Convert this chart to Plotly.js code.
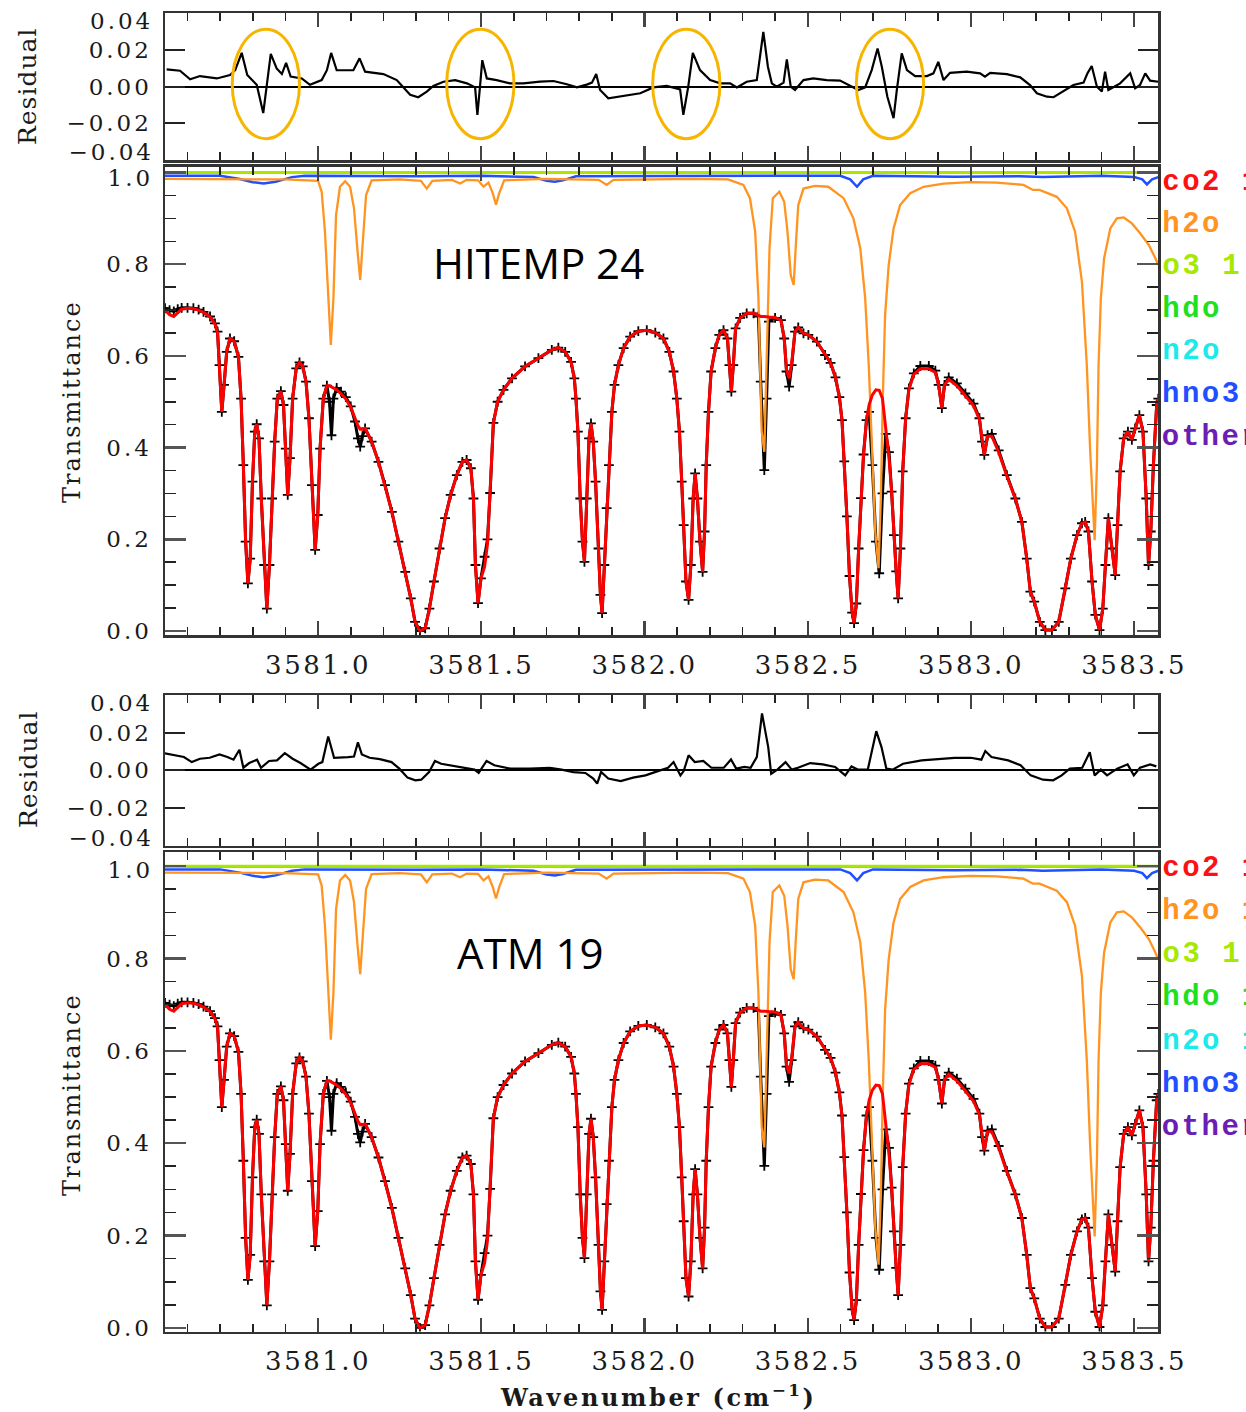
<!DOCTYPE html>
<html><head><meta charset="utf-8">
<script src="https://cdn.plot.ly/plotly-3.0.1.min.js"></script>
<style>
html,body{margin:0;padding:0;background:#fff;}
#plot{width:1246px;height:1412px;}
g[class^="x"][class$="tick"] > text{letter-spacing:2.5px;}
g[class^="y"][class$="tick"] > text{letter-spacing:3px;}
</style></head><body><div id="plot"></div>
<script>
// ---------------- data ----------------
// observed spectrum (same in both panels) and calculated fit
const wn = [
3580.531,3580.545,3580.558,3580.570,3580.582,3580.600,3580.618,3580.634,3580.649,3580.669,
3580.684,3580.692,3580.698,3580.705,3580.712,3580.720,3580.730,3580.743,3580.756,3580.764,
3580.771,3580.778,3580.785,3580.792,3580.799,3580.806,3580.812,3580.819,3580.826,3580.835,
3580.843,3580.851,3580.859,3580.867,3580.875,3580.886,3580.894,3580.901,3580.907,3580.914,
3580.922,3580.933,3580.943,3580.953,3580.963,3580.972,3580.981,3580.991,3580.999,3581.006,
3581.016,3581.027,3581.035,3581.041,3581.047,3581.057,3581.070,3581.085,3581.100,3581.113,
3581.122,3581.129,3581.136,3581.144,3581.164,3581.185,3581.205,3581.226,3581.246,3581.267,
3581.284,3581.297,3581.312,3581.328,3581.341,3581.355,3581.372,3581.389,3581.406,3581.425,
3581.442,3581.455,3581.468,3581.476,3581.482,3581.490,3581.499,3581.510,3581.519,3581.527,
3581.537,3581.550,3581.568,3581.594,3581.634,3581.675,3581.716,3581.736,3581.757,3581.775,
3581.785,3581.790,3581.796,3581.803,3581.810,3581.816,3581.823,3581.830,3581.836,3581.843,
3581.850,3581.859,3581.865,3581.870,3581.877,3581.884,3581.891,3581.900,3581.908,3581.920,
3581.936,3581.956,3581.981,3582.007,3582.033,3582.058,3582.076,3582.089,3582.099,3582.107,
3582.114,3582.120,3582.127,3582.135,3582.142,3582.149,3582.155,3582.162,3582.170,3582.178,
3582.184,3582.189,3582.196,3582.204,3582.217,3582.229,3582.242,3582.254,3582.260,3582.266,
3582.272,3582.279,3582.293,3582.313,3582.334,3582.349,3582.356,3582.367,3582.374,3582.381,
3582.400,3582.418,3582.428,3582.435,3582.443,3582.451,3582.461,3582.471,3582.487,3582.502,
3582.528,3582.553,3582.570,3582.585,3582.597,3582.605,3582.612,3582.620,3582.628,3582.636,
3582.642,3582.649,3582.656,3582.663,3582.671,3582.680,3582.688,3582.698,3582.709,3582.719,
3582.729,3582.739,3582.749,3582.757,3582.764,3582.771,3582.777,3582.784,3582.791,3582.800,
3582.810,3582.825,3582.845,3582.871,3582.891,3582.901,3582.911,3582.919,3582.932,3582.957,
3582.983,3583.008,3583.026,3583.034,3583.041,3583.051,3583.064,3583.085,3583.110,3583.136,
3583.156,3583.171,3583.182,3583.194,3583.211,3583.228,3583.248,3583.269,3583.289,3583.306,
3583.325,3583.340,3583.350,3583.360,3583.371,3583.381,3583.394,3583.404,3583.412,3583.421,
3583.432,3583.442,3583.449,3583.457,3583.468,3583.481,3583.493,3583.503,3583.516,3583.527,
3583.537,3583.544,3583.551,3583.559,3583.569,3583.574];
const obsT = [
0.704,0.700,0.697,0.702,0.705,0.705,0.704,0.701,0.696,0.686,
0.671,0.653,0.580,0.478,0.537,0.609,0.638,0.632,0.598,0.507,
0.362,0.195,0.104,0.158,0.326,0.435,0.451,0.420,0.289,0.144,
0.049,0.144,0.289,0.413,0.507,0.523,0.493,0.398,0.297,0.377,
0.507,0.573,0.586,0.577,0.544,0.464,0.318,0.177,0.253,0.398,
0.507,0.535,0.500,0.427,0.507,0.530,0.522,0.510,0.490,0.457,
0.420,0.402,0.425,0.442,0.413,0.369,0.318,0.260,0.195,0.129,
0.071,0.020,0.000,0.006,0.049,0.108,0.180,0.246,0.297,0.340,
0.369,0.373,0.355,0.289,0.144,0.061,0.115,0.162,0.200,0.301,
0.454,0.500,0.526,0.551,0.577,0.595,0.613,0.618,0.609,0.587,
0.551,0.507,0.435,0.289,0.195,0.151,0.289,0.420,0.453,0.413,
0.326,0.180,0.079,0.039,0.144,0.268,0.362,0.478,0.537,0.580,
0.617,0.642,0.654,0.656,0.651,0.638,0.609,0.566,0.507,0.435,
0.326,0.231,0.108,0.068,0.144,0.289,0.344,0.289,0.195,0.129,
0.217,0.362,0.478,0.566,0.617,0.646,0.656,0.638,0.580,0.522,
0.580,0.660,0.683,0.693,0.693,0.686,0.544,0.351,0.507,0.675,
0.683,0.678,0.638,0.566,0.533,0.580,0.653,0.662,0.649,0.646,
0.631,0.602,0.585,0.553,0.510,0.460,0.370,0.250,0.120,0.040,
0.017,0.060,0.180,0.290,0.385,0.460,0.478,0.362,0.195,0.126,
0.300,0.430,0.390,0.304,0.209,0.130,0.071,0.180,0.348,0.464,
0.529,0.562,0.578,0.578,0.568,0.537,0.486,0.537,0.553,0.540,
0.518,0.496,0.464,0.413,0.384,0.427,0.430,0.394,0.340,0.289,
0.238,0.158,0.086,0.064,0.020,0.002,0.002,0.020,0.093,0.158,
0.209,0.235,0.238,0.217,0.108,0.035,0.002,0.049,0.144,0.246,
0.180,0.122,0.231,0.348,0.420,0.435,0.417,0.442,0.471,0.435,
0.289,0.144,0.217,0.362,0.493,0.507];
const calcT = [
0.700,0.690,0.686,0.694,0.702,0.704,0.703,0.700,0.695,0.685,
0.670,0.650,0.580,0.478,0.537,0.609,0.638,0.632,0.598,0.507,
0.362,0.195,0.104,0.158,0.326,0.435,0.451,0.420,0.289,0.144,
0.049,0.144,0.289,0.413,0.507,0.523,0.493,0.398,0.297,0.377,
0.507,0.573,0.586,0.577,0.544,0.464,0.318,0.177,0.253,0.398,
0.507,0.535,0.535,0.533,0.530,0.526,0.518,0.506,0.488,0.462,
0.448,0.440,0.440,0.442,0.413,0.369,0.318,0.260,0.195,0.129,
0.071,0.020,0.000,0.006,0.049,0.108,0.180,0.246,0.297,0.340,
0.369,0.373,0.355,0.289,0.144,0.061,0.115,0.140,0.190,0.301,
0.454,0.500,0.526,0.551,0.577,0.595,0.613,0.618,0.609,0.587,
0.551,0.507,0.435,0.289,0.195,0.151,0.289,0.420,0.453,0.413,
0.326,0.180,0.079,0.039,0.144,0.268,0.362,0.478,0.537,0.580,
0.617,0.642,0.654,0.656,0.651,0.638,0.609,0.566,0.507,0.435,
0.326,0.231,0.108,0.068,0.144,0.289,0.344,0.289,0.195,0.129,
0.217,0.362,0.478,0.566,0.617,0.646,0.656,0.638,0.580,0.522,
0.580,0.660,0.683,0.693,0.693,0.687,0.686,0.686,0.685,0.685,
0.684,0.678,0.638,0.570,0.551,0.585,0.653,0.662,0.649,0.646,
0.631,0.602,0.585,0.553,0.510,0.460,0.370,0.250,0.120,0.040,
0.017,0.060,0.180,0.290,0.385,0.460,0.493,0.515,0.526,0.525,
0.507,0.442,0.377,0.304,0.209,0.130,0.071,0.180,0.348,0.464,
0.527,0.560,0.572,0.572,0.564,0.537,0.486,0.537,0.549,0.535,
0.513,0.491,0.462,0.413,0.384,0.425,0.425,0.390,0.338,0.289,
0.238,0.158,0.086,0.064,0.020,0.002,0.002,0.020,0.093,0.158,
0.209,0.235,0.238,0.217,0.108,0.035,0.002,0.049,0.144,0.246,
0.180,0.122,0.231,0.348,0.420,0.435,0.417,0.442,0.471,0.435,
0.289,0.144,0.217,0.362,0.493,0.507];

// h2o contribution
const h2oWn = [
3580.531,3580.700,3580.900,3581.000,3581.011,3581.021,3581.032,3581.039,3581.047,3581.055,
3581.067,3581.083,3581.098,3581.110,3581.121,3581.129,3581.137,3581.147,3581.164,3581.250,
3581.315,3581.333,3581.350,3581.410,3581.435,3581.455,3581.490,3581.507,3581.522,3581.535,
3581.545,3581.555,3581.570,3581.700,3581.860,3581.884,3581.905,3582.000,3582.150,3582.256,
3582.303,3582.323,3582.339,3582.349,3582.359,3582.367,3582.376,3582.383,3582.393,3582.413,
3582.428,3582.438,3582.448,3582.457,3582.463,3582.471,3582.487,3582.522,3582.563,3582.610,
3582.640,3582.661,3582.676,3582.687,3582.697,3582.707,3582.717,3582.724,3582.730,3582.737,
3582.748,3582.763,3582.783,3582.814,3582.855,3582.916,3582.998,3583.079,3583.161,3583.190,
3583.210,3583.263,3583.294,3583.319,3583.340,3583.355,3583.365,3583.376,3583.379,3583.386,
3583.391,3583.398,3583.408,3583.427,3583.447,3583.468,3583.493,3583.519,3583.545,3583.565,
3583.574];
const h2oT = [
0.986,0.986,0.985,0.982,0.958,0.871,0.726,0.624,0.726,0.907,
0.969,0.981,0.969,0.922,0.827,0.766,0.849,0.951,0.983,0.985,
0.982,0.965,0.982,0.984,0.976,0.984,0.983,0.969,0.978,0.955,
0.930,0.955,0.983,0.986,0.984,0.973,0.984,0.985,0.986,0.985,
0.973,0.944,0.871,0.726,0.435,0.391,0.653,0.835,0.944,0.958,
0.936,0.871,0.776,0.755,0.835,0.929,0.965,0.971,0.969,0.944,
0.900,0.835,0.726,0.580,0.398,0.217,0.137,0.289,0.507,0.689,
0.798,0.878,0.929,0.955,0.969,0.976,0.979,0.978,0.973,0.962,
0.962,0.947,0.922,0.871,0.762,0.580,0.398,0.217,0.198,0.362,
0.580,0.726,0.813,0.878,0.900,0.902,0.889,0.867,0.842,0.813,
0.798];

// hno3 contribution
const hno3Wn = [3580.531,3580.700,3580.760,3580.800,3580.833,3580.870,3580.920,3580.960,3581.300,3581.500,
3581.660,3581.700,3581.725,3581.750,3581.790,3582.200,3582.600,3582.630,3582.651,3582.670,
3582.700,3582.950,3583.150,3583.220,3583.400,3583.500,3583.525,3583.539,3583.555,3583.574];
const hno3T = [0.993,0.993,0.986,0.979,0.976,0.980,0.990,0.993,0.992,0.993,
0.990,0.982,0.980,0.983,0.992,0.993,0.993,0.985,0.969,0.985,
0.993,0.991,0.992,0.990,0.993,0.990,0.985,0.974,0.985,0.990];

// gases that stay at 1.0 over the window
const flatWn = [3580.531, 3583.574];
const co2T = [1.0, 1.0];
const o3T = [1.0, 1.0];
const hdoT = [1.0, 1.0];
const n2oT = [1.0, 1.0];
const otherT = [1.0, 1.0];

// residuals: HITEMP 24 (top) and ATM 19 (bottom)
const resWnA = [
3580.536,3580.577,3580.608,3580.638,3580.690,3580.730,3580.746,3580.766,3580.783,3580.812,
3580.832,3580.843,3580.855,3580.873,3580.889,3580.902,3580.916,3580.950,3580.975,3581.011,
3581.027,3581.040,3581.057,3581.108,3581.127,3581.144,3581.200,3581.241,3581.267,3581.282,
3581.307,3581.333,3581.353,3581.384,3581.420,3581.456,3581.481,3581.488,3581.496,3581.503,
3581.517,3581.547,3581.588,3581.629,3581.680,3581.721,3581.762,3581.793,3581.823,3581.839,
3581.852,3581.864,3581.889,3581.935,3581.987,3582.027,3582.068,3582.109,3582.119,3582.134,
3582.148,3582.170,3582.201,3582.232,3582.262,3582.283,3582.313,3582.344,3582.364,3582.378,
3582.390,3582.405,3582.426,3582.436,3582.448,3582.461,3582.487,3582.517,3582.558,3582.599,
3582.630,3582.655,3582.676,3582.696,3582.714,3582.727,3582.744,3582.763,3582.773,3582.788,
3582.804,3582.829,3582.865,3582.885,3582.900,3582.916,3582.936,3582.987,3583.028,3583.043,
3583.059,3583.110,3583.151,3583.181,3583.202,3583.233,3583.253,3583.283,3583.314,3583.345,
3583.357,3583.370,3583.386,3583.401,3583.411,3583.421,3583.437,3583.457,3583.488,3583.503,
3583.518,3583.534,3583.549,3583.574];
const resA = [
0.0095,0.0087,0.0040,0.0058,0.0045,0.0064,0.0090,0.0185,0.0064,0.0010,
-0.0145,0.0000,0.0180,0.0100,0.0069,0.0130,0.0055,0.0045,0.0010,0.0036,
0.0090,0.0185,0.0090,0.0090,0.0155,0.0082,0.0069,0.0036,-0.0018,-0.0045,
-0.0058,-0.0027,0.0004,0.0027,0.0036,0.0018,-0.0004,-0.0155,0.0000,0.0145,
0.0045,0.0036,0.0018,0.0018,0.0027,0.0031,0.0013,-0.0004,0.0011,0.0022,
0.0069,-0.0018,-0.0064,-0.0051,-0.0036,-0.0004,0.0004,-0.0015,-0.0155,0.0000,
0.0185,0.0091,0.0036,0.0018,0.0018,-0.0004,0.0027,0.0036,0.0300,0.0109,
0.0018,0.0000,0.0022,0.0149,0.0000,-0.0018,0.0036,0.0045,0.0036,0.0033,
0.0004,-0.0018,-0.0004,0.0091,0.0209,0.0109,-0.0055,-0.0173,-0.0018,0.0182,
0.0091,0.0058,0.0058,0.0073,0.0136,0.0036,0.0076,0.0082,0.0073,0.0055,
0.0076,0.0069,0.0051,0.0009,-0.0036,-0.0055,-0.0058,-0.0027,0.0009,0.0022,
0.0073,0.0113,0.0000,-0.0027,0.0082,-0.0018,-0.0004,0.0018,0.0073,-0.0009,
0.0009,0.0073,0.0033,0.0027];
const resWnB = [
3580.528,3580.559,3580.589,3580.613,3580.638,3580.668,3580.698,3580.722,3580.741,3580.759,
3580.771,3580.789,3580.813,3580.825,3580.850,3580.874,3580.898,3580.922,3580.946,3580.977,
3581.001,3581.013,3581.031,3581.049,3581.068,3581.092,3581.110,3581.122,3581.134,3581.158,
3581.189,3581.225,3581.249,3581.274,3581.298,3581.316,3581.340,3581.358,3581.377,3581.407,
3581.455,3581.479,3581.492,3581.504,3581.516,3581.540,3581.589,3581.649,3581.710,3581.746,
3581.782,3581.819,3581.843,3581.855,3581.867,3581.889,3581.927,3581.965,3582.003,3582.041,
3582.072,3582.089,3582.110,3582.120,3582.135,3582.154,3582.180,3582.205,3582.243,3582.265,
3582.281,3582.306,3582.325,3582.344,3582.360,3582.379,3582.388,3582.407,3582.432,3582.451,
3582.470,3582.508,3582.546,3582.584,3582.615,3582.634,3582.653,3582.684,3582.697,3582.710,
3582.726,3582.741,3582.760,3582.792,3582.849,3582.899,3582.950,3583.000,3583.032,3583.044,
3583.063,3583.114,3583.152,3583.183,3583.221,3583.252,3583.278,3583.303,3583.341,3583.364,
3583.379,3583.398,3583.417,3583.448,3583.480,3583.499,3583.518,3583.549,3583.568];
const resB = [
0.0092,0.0080,0.0071,0.0044,0.0062,0.0067,0.0085,0.0071,0.0057,0.0110,
0.0014,0.0039,0.0057,0.0014,0.0050,0.0053,0.0092,0.0062,0.0039,0.0004,
0.0035,0.0044,0.0181,0.0067,0.0067,0.0071,0.0074,0.0150,0.0085,0.0067,
0.0060,0.0044,0.0009,-0.0039,-0.0053,-0.0050,-0.0009,0.0050,0.0035,0.0027,
0.0014,0.0004,-0.0014,0.0021,0.0050,0.0027,0.0009,0.0009,0.0014,0.0004,
-0.0009,-0.0014,-0.0044,-0.0071,-0.0009,-0.0044,-0.0057,-0.0039,-0.0027,-0.0004,
0.0014,0.0044,-0.0027,-0.0004,0.0080,0.0044,0.0050,0.0014,0.0014,0.0058,
0.0009,0.0018,0.0014,0.0071,0.0304,0.0124,-0.0018,0.0004,0.0044,0.0004,
0.0014,0.0039,0.0032,0.0018,-0.0027,0.0021,0.0004,0.0004,0.0115,0.0209,
0.0124,0.0009,0.0004,0.0035,0.0053,0.0058,0.0067,0.0067,0.0057,0.0103,
0.0071,0.0053,0.0027,-0.0027,-0.0050,-0.0053,-0.0027,0.0009,0.0014,0.0097,
-0.0027,0.0004,-0.0027,0.0009,0.0032,-0.0027,0.0014,0.0032,0.0021];

// highlighted residual features in the HITEMP panel (ellipse centres, cm-1)
const highlightWn = [3580.840, 3581.497, 3582.128, 3582.752];

// text
const legendTop = ['co2 1.0','h2o','o3 1.0','hdo','n2o','hno3','other'];
const legendBot = ['co2 1.0','h2o 1.0','o3 1.0','hdo 1.0','n2o 1.0','hno3','other'];
const legendColors = ['#ff1010','#ff9421','#a6e800','#1fe01f','#19eaea','#1f4fff','#6a1eb4'];
const resTickVals = [-0.04,-0.02,0,0.02,0.04];
const resTickText = ['\u22120.04','\u22120.02','0.00','0.02','0.04'];
const trTickVals = [0,0.2,0.4,0.6,0.8,1.0];
const trTickText = ['0.0','0.2','0.4','0.6','0.8','1.0'];
const panelLabels = ['HITEMP 24','ATM 19'];

// ---------------- layout helpers ----------------
const W = 1246, H = 1412;
const fx = v => v / W, fy = v => 1 - v / H;
const XR = [3580.531, 3583.574];
const XDOM = [fx(165), fx(1158.3)];
const tickFont = {family:'DejaVu Serif', size:23, color:'#1a1a1a'};
const TICK_LS = 3;
const AX = '#333';

function xaxis(anchor, labels){
  return {domain:XDOM, range:XR, anchor:anchor, showline:true, mirror:'allticks',
    linecolor:AX, linewidth:2.5, ticks:'inside', ticklen:14, tickwidth:2.2, tickcolor:'#444',
    tick0:3581.0, dtick:0.5, tickformat:'.1f',
    minor:{ticks:'inside', tick0:3581.0, dtick:0.1, ticklen:8, tickwidth:1.6, tickcolor:'#222'},
    showgrid:false, zeroline:false, showticklabels:labels,
    tickfont:{family:'DejaVu Serif', size:26, color:'#1a1a1a'}, ticklabelstandoff:5};
}
// labels that sit right at a frame edge are nudged inside the frame in the original,
// so those are drawn as annotations and left blank on the axis
const blankEnds = arr => arr.map((s,i)=> (i===0 || i===arr.length-1) ? '' : s);
const blankLast = arr => arr.map((s,i)=> (i===arr.length-1) ? '' : s);
function resAxis(anchor, top, bottom){
  return {domain:[fy(bottom), fy(top)], range:[-0.0402, 0.0402], anchor:anchor,
    showline:true, mirror:'allticks', linecolor:AX, linewidth:2.5,
    ticks:'inside', ticklen:20, tickwidth:1.8, tickcolor:'#222',
    tickvals:resTickVals, ticktext:blankEnds(resTickText), showgrid:false,
    zeroline:true, zerolinecolor:'#000', zerolinewidth:2.2,
    tickfont:tickFont, ticklabelstandoff:6};
}
function trAxis(anchor, top, bottom, range){
  return {domain:[fy(bottom), fy(top)], range:range, anchor:anchor,
    showline:true, mirror:'allticks', linecolor:AX, linewidth:2.5,
    ticks:'inside', ticklen:21, tickwidth:2.5, tickcolor:'#555',
    tickvals:trTickVals, ticktext:blankLast(trTickText),
    minor:{ticks:'inside', tick0:0, dtick:0.05, ticklen:11, tickwidth:1.6, tickcolor:'#222'},
    showgrid:false, zeroline:false, tickfont:tickFont, ticklabelstandoff:6};
}

// ---------------- traces ----------------
function spectrumTraces(xa, ya){
  const t = [];
  t.push({x:wn, y:obsT, xaxis:xa, yaxis:ya, type:'scatter', mode:'lines+markers',
    line:{color:'#000', width:3}, marker:{symbol:'cross-thin', size:7, line:{color:'#000', width:1.8}}});
  [co2T, hdoT, n2oT, otherT].forEach((v,i)=>{
    const c = [legendColors[0], legendColors[3], legendColors[4], legendColors[6]][i];
    t.push({x:flatWn, y:v, xaxis:xa, yaxis:ya, type:'scatter', mode:'lines', line:{color:c, width:2}});
  });
  t.push({x:hno3Wn, y:hno3T, xaxis:xa, yaxis:ya, type:'scatter', mode:'lines', line:{color:legendColors[5], width:2.5}});
  t.push({x:flatWn, y:o3T, xaxis:xa, yaxis:ya, type:'scatter', mode:'lines', line:{color:legendColors[2], width:3}});
  t.push({x:h2oWn, y:h2oT, xaxis:xa, yaxis:ya, type:'scatter', mode:'lines', line:{color:legendColors[1], width:2.3}});
  t.push({x:wn, y:calcT, xaxis:xa, yaxis:ya, type:'scatter', mode:'lines', line:{color:'#ff0000', width:3}});
  return t;
}
const data = [
  {x:resWnA, y:resA, xaxis:'x', yaxis:'y', type:'scatter', mode:'lines', line:{color:'#000', width:2.2}},
  ...spectrumTraces('x2','y2'),
  {x:resWnB, y:resB, xaxis:'x3', yaxis:'y3', type:'scatter', mode:'lines', line:{color:'#000', width:2.2}},
  ...spectrumTraces('x4','y4')
];

// ---------------- highlight ellipses ----------------
const ELL_HALF_W = 0.103;   // half-width in cm-1
const shapes = highlightWn.map(c => ({type:'circle', xref:'x', yref:'y',
  x0:c - ELL_HALF_W, x1:c + ELL_HALF_W, y0:-0.0285, y1:0.0315,
  line:{color:'#f7b500', width:3}, fillcolor:'rgba(0,0,0,0)', layer:'above'}));

// ---------------- annotations ----------------
const ann = [];
const spacing = [];
function addAnn(a, ls){ ann.push(a); spacing.push(ls); }
const titleFont = {family:'DejaVu Serif', size:25, color:'#1a1a1a'};
addAnn({text:'Residual', x:fx(28), y:fy(87), textangle:-90, font:titleFont}, 1);
addAnn({text:'Transmittance', x:fx(72), y:fy(402), textangle:-90, font:{family:'DejaVu Serif', size:24, color:'#1a1a1a'}}, 2);
addAnn({text:'Residual', x:fx(28), y:fy(770), textangle:-90, font:titleFont}, 1);
addAnn({text:'Transmittance', x:fx(72), y:fy(1095), textangle:-90, font:{family:'DejaVu Serif', size:24, color:'#1a1a1a'}}, 2);
addAnn({text:'Wavenumber (cm<sup>\u22121</sup>)', x:fx(658), y:fy(1396),
  font:{family:'DejaVu Serif', size:24, color:'#1a1a1a', weight:'bold'}}, 2.6);
addAnn({text:panelLabels[0], x:fx(538), y:fy(262), font:{family:'Open Sans', size:42, color:'#000'}}, null);
addAnn({text:panelLabels[1], x:fx(530), y:fy(952), font:{family:'Open Sans', size:42, color:'#000'}}, null);
// edge tick labels: right edge of the text at x = 155 px
const edgeLabel = (s, ypx) => addAnn({text:s, x:fx(155 - s.length*TICK_LS/2), y:fy(ypx),
  xanchor:'right', font:tickFont}, TICK_LS);
const lastRes = resTickText.length - 1, lastTr = trTickText.length - 1;
edgeLabel(resTickText[lastRes], 21);  edgeLabel(resTickText[0], 152);
edgeLabel(trTickText[lastTr], 178);
edgeLabel(resTickText[lastRes], 703); edgeLabel(resTickText[0], 838);
edgeLabel(trTickText[lastTr], 870);
const LS = 2.5;
legendTop.forEach((s,i)=> addAnn({text:s, x:fx(1160 + s.length*LS/2), y:fy(182 + i*42.5), xanchor:'left',
  font:{family:'Liberation Mono', size:29, color:legendColors[i], weight:'bold'}}, LS));
legendBot.forEach((s,i)=> addAnn({text:s, x:fx(1160 + s.length*LS/2), y:fy(868 + i*43.3), xanchor:'left',
  font:{family:'Liberation Mono', size:29, color:legendColors[i], weight:'bold'}}, LS));
ann.forEach(a=>{ a.xref='paper'; a.yref='paper'; a.showarrow=false; if(!a.xanchor) a.xanchor='center'; a.yanchor='middle'; });

const layout = {
  width:W, height:H, margin:{l:0,r:0,t:0,b:0}, paper_bgcolor:'#fff', plot_bgcolor:'#fff',
  showlegend:false, hovermode:false,
  xaxis: xaxis('y', false),
  yaxis: resAxis('x', 13.3, 160),
  xaxis2: xaxis('y2', true),
  yaxis2: trAxis('x2', 166.7, 635, [-0.0087, 1.0127]),
  xaxis3: xaxis('y3', false),
  yaxis3: resAxis('x3', 695, 845.7),
  xaxis4: xaxis('y4', true),
  yaxis4: trAxis('x4', 852.3, 1331.6, [-0.008, 1.030]),
  shapes: shapes,
  annotations: ann
};

function applySpacing(gd){
  gd.querySelectorAll('g.annotation').forEach(g=>{
    const i = +g.getAttribute('data-index');
    if (spacing[i] != null) g.querySelectorAll('text').forEach(t=>{ t.style.letterSpacing = spacing[i] + 'px'; });
  });
}
Plotly.newPlot('plot', data, layout, {staticPlot:true}).then(gd=>{
  applySpacing(gd);
  gd.on('plotly_afterplot', ()=>applySpacing(gd));
});
</script></body></html>
